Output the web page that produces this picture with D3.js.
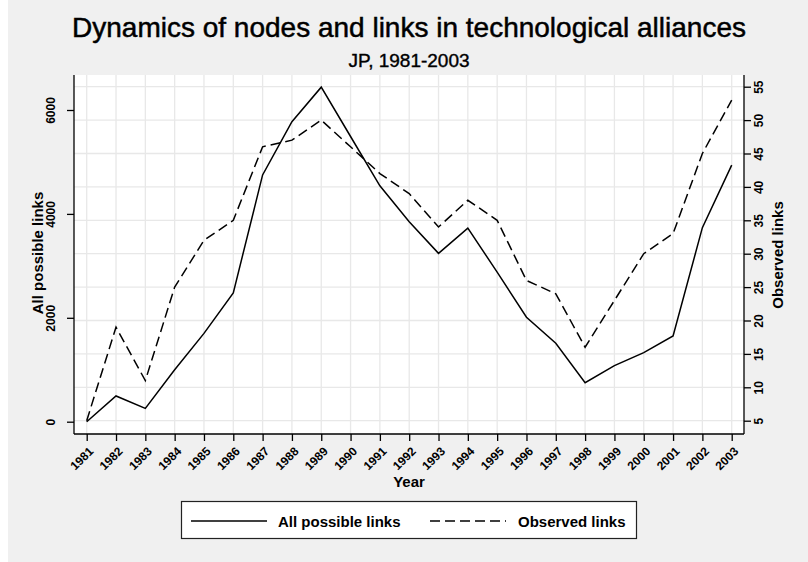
<!DOCTYPE html>
<html lang="en">

<head>
    <meta charset="UTF-8">
    <title>Dynamics of nodes and links</title>
    <script src="https://unpkg.com/d3@7.8.5/dist/d3.min.js"></script>
    <style>
        html, body { margin: 0; background: #f0f0f0; overflow: hidden; }
        svg { display: block; font-family: 'Liberation Sans', Arial, sans-serif; }
    </style>
</head>

<body>
    <svg width="808" height="562"></svg>
    <script>
        // data
        var years = d3.range(1981, 2004)
        var allPossible = [0, 495, 255, 1000, 1700, 2480, 4750, 5775, 6440, 5490, 4540, 3850,
            3240, 3725, 2880, 2010, 1510, 750, 1080, 1330, 1650, 3735, 4940]
        var observed = [5, 19, 11, 25, 32, 35, 46, 47, 50, 46, 42, 39,
            34, 38, 35, 26, 24, 16, 23, 30, 33, 45, 53]
        var leftTicks = [0, 2000, 4000, 6000]
        var rightTicks = [5, 10, 15, 20, 25, 30, 35, 40, 45, 50, 55]

        var svg = d3.select('svg')

        // background, with the thin white strip on the left
        svg.append('rect').attr('width', 808).attr('height', 562).attr('fill', '#f0f0f0')
        svg.append('rect').attr('width', 8).attr('height', 562).attr('fill', '#ffffff')

        // plot region
        var plot = { left: 74, right: 744, top: 75, bottom: 434 }

        var x = d3.scaleLinear().domain([1981, 2003]).range([86.7, 731.7])
        var yL = d3.scaleLinear().domain([0, 6000]).range([421.7, 110])
        var yR = d3.scaleLinear().domain([5, 55]).range([420.7, 86.7])

        svg.append('rect')
            .attr('x', plot.left).attr('y', plot.top)
            .attr('width', plot.right - plot.left).attr('height', plot.bottom - plot.top)
            .attr('fill', 'white')

        // grid lines
        var grid = svg.append('g').attr('stroke', '#e8e8e8').attr('stroke-width', 1.3)
        grid.selectAll('.vg').data(years).enter()
            .append('line')
            .attr('x1', d => x(d)).attr('x2', d => x(d))
            .attr('y1', plot.top).attr('y2', plot.bottom)
        grid.selectAll('.hg').data(rightTicks).enter()
            .append('line')
            .attr('x1', plot.left).attr('x2', plot.right)
            .attr('y1', d => yR(d)).attr('y2', d => yR(d))

        // lines
        var lineL = d3.line().x((d, i) => x(years[i])).y(d => yL(d))
        var lineR = d3.line().x((d, i) => x(years[i])).y(d => yR(d))

        svg.append('path').datum(allPossible)
            .attr('d', lineL)
            .attr('fill', 'none').attr('stroke', 'black').attr('stroke-width', 1.5)
        svg.append('path').datum(observed)
            .attr('d', lineR)
            .attr('fill', 'none').attr('stroke', 'black').attr('stroke-width', 1.5)
            .attr('stroke-dasharray', '10,5')

        // axes
        var axisG = svg.append('g')

        // left
        var gl = axisG.append('g').attr('transform', 'translate(' + plot.left + ',0)')
            .call(d3.axisLeft(yL).tickValues(leftTicks).tickSize(7).tickFormat(d3.format('d')))
        gl.select('.domain').attr('d', 'M0,' + plot.top + 'V' + plot.bottom)
        gl.selectAll('.tick text')
            .attr('x', null).attr('dy', null)
            .attr('text-anchor', 'middle')
            .attr('transform', 'translate(-19,0) rotate(-90)')

        // right
        var gr = axisG.append('g').attr('transform', 'translate(' + plot.right + ',0)')
            .call(d3.axisRight(yR).tickValues(rightTicks).tickSize(7))
        gr.select('.domain').attr('d', 'M0,' + plot.top + 'V' + plot.bottom)
        gr.selectAll('.tick text')
            .attr('x', null).attr('dy', null)
            .attr('text-anchor', 'middle')
            .attr('transform', 'translate(19,0) rotate(-90)')

        // bottom
        var gb = axisG.append('g').attr('transform', 'translate(0,' + plot.bottom + ')')
            .call(d3.axisBottom(x).tickValues(years).tickSize(7).tickFormat(d3.format('d')))
        gb.select('.domain').attr('d', 'M' + plot.left + ',0H' + plot.right)
        gb.selectAll('.tick text')
            .attr('y', null).attr('dy', '0.35em')
            .attr('text-anchor', 'end')
            .attr('transform', 'translate(4,15) rotate(-45)')

        // d3 sets its own font on each axis group, so override it on the labels
        axisG.selectAll('.domain, .tick line').attr('stroke', 'black').attr('stroke-width', 1.3)
        axisG.selectAll('.tick text')
            .attr('fill', 'black')
            .style('font-family', "'Liberation Sans', Arial, sans-serif")
            .style('font-size', '12px')
            .style('font-weight', 'bold')

        // titles
        svg.append('text').text('Dynamics of nodes and links in technological alliances')
            .attr('x', 409).attr('y', 37).attr('text-anchor', 'middle')
            .attr('font-size', 28).attr('stroke', 'black').attr('stroke-width', 0.5)
        svg.append('text').text('JP, 1981-2003')
            .attr('x', 409).attr('y', 67).attr('text-anchor', 'middle')
            .attr('font-size', 19).attr('stroke', 'black').attr('stroke-width', 0.4)

        svg.append('text').text('Year')
            .attr('x', 409).attr('y', 487).attr('text-anchor', 'middle')
            .attr('font-size', 15).attr('font-weight', 'bold')
        svg.append('text').text('All possible links')
            .attr('transform', 'translate(43,253) rotate(-90)').attr('text-anchor', 'middle')
            .attr('font-size', 15).attr('font-weight', 'bold')
        svg.append('text').text('Observed links')
            .attr('transform', 'translate(783,255) rotate(-90)').attr('text-anchor', 'middle')
            .attr('font-size', 15).attr('font-weight', 'bold')

        // legend
        var legend = svg.append('g')
        legend.append('rect')
            .attr('x', 181.5).attr('y', 501.5).attr('width', 455).attr('height', 37)
            .attr('fill', 'white').attr('stroke', '#222').attr('stroke-width', 1.2)
        legend.append('line')
            .attr('x1', 191).attr('x2', 267).attr('y1', 521).attr('y2', 521)
            .attr('stroke', 'black').attr('stroke-width', 1.5)
        legend.append('text').text('All possible links')
            .attr('x', 278).attr('y', 526.5).attr('font-size', 15).attr('font-weight', 'bold')
        legend.append('line')
            .attr('x1', 430).attr('x2', 506).attr('y1', 521).attr('y2', 521)
            .attr('stroke', 'black').attr('stroke-width', 1.5).attr('stroke-dasharray', '10,5')
        legend.append('text').text('Observed links')
            .attr('x', 518).attr('y', 526.5).attr('font-size', 15).attr('font-weight', 'bold')
    </script>
</body>

</html>
